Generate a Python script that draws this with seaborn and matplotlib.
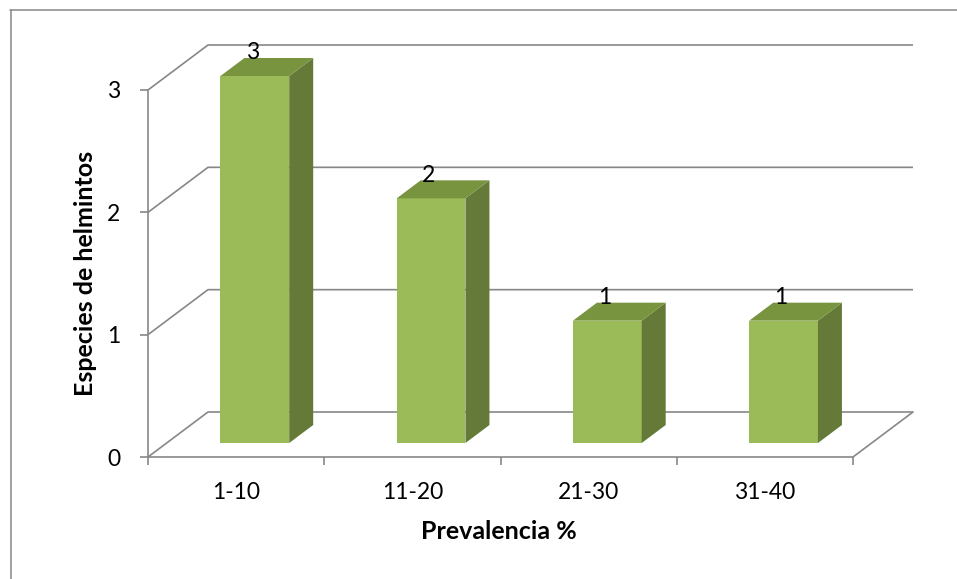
import matplotlib
matplotlib.use("Agg")
import matplotlib.pyplot as plt
import matplotlib.transforms as mtransforms
from matplotlib.patches import Polygon
from matplotlib.lines import Line2D
import seaborn as sns
import pandas as pd

# Data
categories = ["1-10", "11-20", "21-30", "31-40"]
species = [3, 2, 1, 1]
y_ticks = [0, 1, 2, 3]
x_title = "Prevalencia %"
y_title = "Especies de helmintos"

FRONT = "#9BBB59"
SIDE = "#657A39"
TOP = "#78943F"
GRAY = "#878787"

sns.set_theme(style="white")
plt.rcParams["font.family"] = ["Lato", "DejaVu Sans"]

W, H, DPI = 957, 579, 100
fig = plt.figure(figsize=(W / DPI, H / DPI), dpi=DPI)
fig.patch.set_facecolor("white")

# front plane of the 3-D box, in pixels
left_px, right_px, top_px, bot_px = 148, 853, 90, 457
ax = fig.add_axes([left_px / W, (H - bot_px) / H,
                   (right_px - left_px) / W, (bot_px - top_px) / H])
ax.set_facecolor("none")

df = pd.DataFrame({"cat": categories, "val": species})
sns.barplot(data=df, x="cat", y="val", color=FRONT, saturation=1,
            width=0.39, linewidth=0, ax=ax, zorder=3)

ax.set_xlim(-0.5, len(categories) - 0.5)
ax.set_ylim(0, max(y_ticks))

px_x = (right_px - left_px) / len(categories)   # pixels per category
px_y = (bot_px - top_px) / max(y_ticks)          # pixels per unit

# depth of the box (back wall offset) and of each column
box_dx, box_dy = 60 / px_x, 45 / px_y
off_dx, off_dy = 18.7 / px_x, 14 / px_y
col_dx, col_dy = 24 / px_x, 18 / px_y

lw_grid = 1.2
x0, x1 = -0.5, len(categories) - 0.5

# gridlines: wall diagonal + back wall line
for v in y_ticks:
    ax.plot([x0, x0 + box_dx, x1 + box_dx], [v, v + box_dy, v + box_dy],
            color=GRAY, lw=lw_grid, clip_on=False, zorder=1,
            solid_capstyle="butt")
# right edge of the floor
ax.plot([x1, x1 + box_dx], [0, box_dy], color=GRAY, lw=lw_grid,
        clip_on=False, zorder=1)

# columns: shift the fronts into the box and add side and top faces
shift = mtransforms.Affine2D().translate(off_dx, off_dy) + ax.transData
for p in list(ax.patches):
    x, w, h = p.get_x(), p.get_width(), p.get_height()
    p.set_transform(shift)
    p.set_clip_on(False)
    side = Polygon([(x + w, 0), (x + w, h), (x + w + col_dx, h + col_dy),
                    (x + w + col_dx, col_dy)], closed=True, facecolor=SIDE,
                   edgecolor="none", transform=shift, clip_on=False, zorder=3)
    top = Polygon([(x, h), (x + w, h), (x + w + col_dx, h + col_dy),
                   (x + col_dx, h + col_dy)], closed=True, facecolor=TOP,
                  edgecolor="none", transform=shift, clip_on=False, zorder=3)
    ax.add_patch(side)
    ax.add_patch(top)

# value labels
for i, v in enumerate(species):
    ax.text(i + 0.091, v + 0.251, f"{v:g}", ha="center", va="baseline",
            fontsize=16.5, color="black", zorder=5, clip_on=False)

# axes styling
for s in ["top", "right"]:
    ax.spines[s].set_visible(False)
for s in ["left", "bottom"]:
    ax.spines[s].set_visible(True)
    ax.spines[s].set_color(GRAY)
    ax.spines[s].set_linewidth(lw_grid)
    ax.spines[s].set_zorder(2)

ax.set_yticks(y_ticks)
ax.set_yticklabels([str(t) for t in y_ticks])
ax.tick_params(axis="y", left=True, length=5.76, width=lw_grid, color=GRAY,
               direction="out", pad=14.4, labelsize=16.5, labelcolor="black")

ax.set_xticks(range(len(categories)))
ax.set_xticklabels(categories)
ax.set_xticks([k - 0.5 for k in range(len(categories) + 1)], minor=True)
ax.tick_params(axis="x", which="major", bottom=True, length=0, pad=18,
               labelsize=16.5, labelcolor="black")
ax.tick_params(axis="x", which="minor", bottom=True, length=5.76,
               width=lw_grid, color=GRAY, direction="out")

ax.set_xlabel(x_title, fontsize=18, fontweight="bold", color="black")
ax.set_ylabel(y_title, fontsize=18, fontweight="bold", color="black")
ax.xaxis.set_label_coords(0.497, -0.172)
ax.yaxis.set_label_coords(-0.0723, 0.5)
ax.grid(False)

# chart frame (top and left edges)
fig.add_artist(Line2D([10.5 / W, 10.5 / W], [0, 1 - 9.5 / H],
                      transform=fig.transFigure, color=GRAY, lw=1.1))
fig.add_artist(Line2D([10 / W, 1], [1 - 9.5 / H, 1 - 9.5 / H],
                      transform=fig.transFigure, color=GRAY, lw=1.1))

fig.savefig("out.png", dpi=DPI, facecolor="white")
